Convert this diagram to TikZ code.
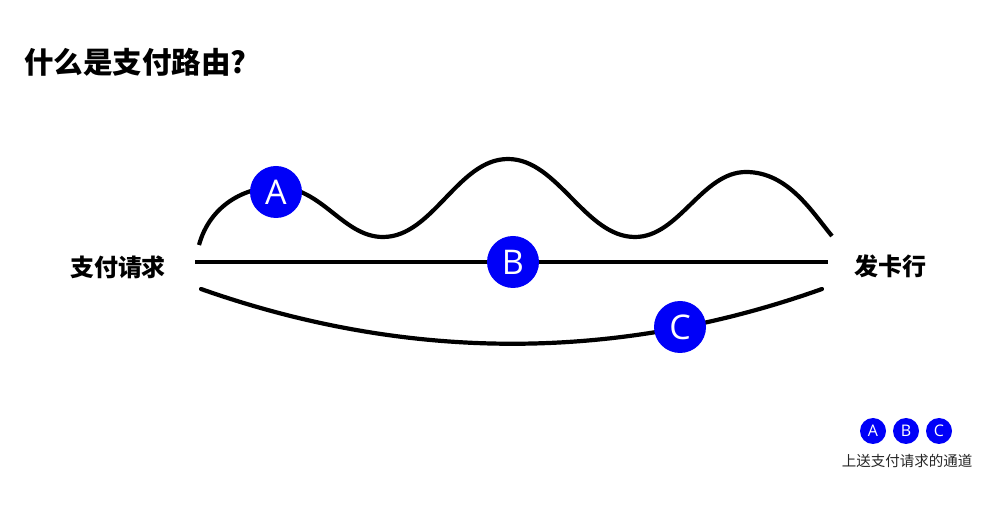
\documentclass[tikz,border=0pt]{standalone}
\usepackage{fontspec}
\setmainfont{Noto Sans CJK SC}
\newfontfamily\latinsans{Open Sans}
\definecolor{chanblue}{RGB}{0,0,248}
\tikzset{
  chan/.style={circle, fill=chanblue, text=white, minimum size=52pt, inner sep=0pt, font=\latinsans\fontsize{34}{34}\selectfont},
  chansmall/.style={circle, fill=chanblue, text=white, minimum size=26pt, inner sep=0pt, font=\latinsans\fontsize{16}{16}\selectfont},
  route/.style={line width=4.2pt, black},
  endlabel/.style={font=\bfseries\fontsize{24}{24}\selectfont, inner sep=0pt},
}
\begin{document}
\begin{tikzpicture}[x=1pt,y=-1pt]
\useasboundingbox (0,0) rectangle (1002,526);
\fill[white] (0,0) rectangle (1002,526);
% title
\node[anchor=west, inner sep=0pt, font=\bfseries\fontsize{29.5}{29.5}\selectfont] (title) at (24,62) {什么是支付路由?};
% end labels
\node[endlabel] (src) at (118,267) {支付请求};
\node[endlabel] (dst) at (890,266) {发卡行};
% route endpoints
\coordinate (wa) at (199,245);
\coordinate (wb) at (832,236);
\coordinate (ba) at (195,262);
\coordinate (bb) at (828,262);
\coordinate (ca) at (201,289);
\coordinate (cb) at (822,289);
% routes
\draw[route] (wa) .. controls (210,205) and (245,187) .. (277,187)
  .. controls (322,187) and (343,237) .. (383,237)
  .. controls (433,237) and (458,159) .. (508,159)
  .. controls (558,159) and (585,237) .. (635,237)
  .. controls (679,237) and (702,172) .. (746,172)
  .. controls (788,172) and (812,212) .. (wb);
\draw[route] (ba) -- (bb);
\draw[route, line cap=round] (ca) .. controls (408,362) and (617,362) .. (cb);
% channel markers
\node[chan] (A) at (276,192) {A};
\node[chan] (B) at (513,262) {B};
\node[chan] (C) at (680,327) {C};
% legend
\node[chansmall] (LA) at (873,431) {A};
\node[chansmall] (LB) at (906,431) {B};
\node[chansmall] (LC) at (939,431) {C};
\node[inner sep=0pt, font=\fontsize{14.5}{14.5}\selectfont, text=black!85] (legend) at (907,461) {上送支付请求的通道};
\end{tikzpicture}
\end{document}
